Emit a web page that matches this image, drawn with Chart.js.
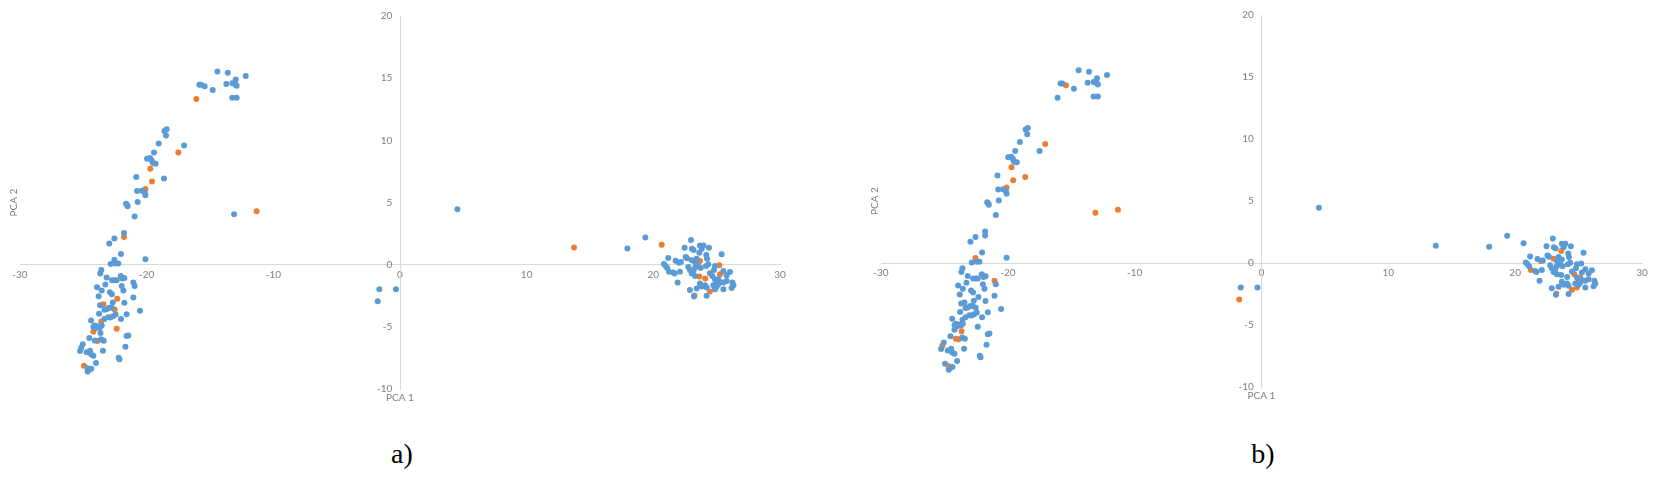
<!DOCTYPE html>
<html>
<head>
<meta charset="utf-8">
<script src="https://cdn.jsdelivr.net/npm/chart.js"></script>
<style>
    body { margin: 0; background: #fff; width: 1654px; height: 478px; overflow: hidden; position: relative; }
    .panel { position: absolute; top: 0; height: 420px; }
    .cap { position: absolute; top: 438px; width: 100px; text-align: center; font: 28px "Liberation Serif", serif; color: #000; }
</style>
</head>
<body>
<div class="panel" style="left:0; width:800px;"><canvas id="pcaA"></canvas></div>
<div class="panel" style="left:861px; width:793px;"><canvas id="pcaB"></canvas></div>
<div class="cap" style="left:352px;">a)</div>
<div class="cap" style="left:1213px;">b)</div>
<script>
// PCA scores (same samples in both panels)
const pc1 = [
    -14.42, -13.6, -12.18, -12.97, -15.84, -15.71, -15.42, -14.79, -13.71, -13.24,
    -12.97, -12.9, -13.24, -12.9, -16.08, -18.6, -18.42, -18.47, -17.05, -17.5,
    -19.05, -19.42, -19.97, -19.74, -19.6, -19.5, -19.29, -19.71, -19.58, -18.63,
    -20.82, -20.1, -20.76, -20.39, -20.1, -20.15, -20.71, -21.63, -21.5, -21.55,
    -20.95, -11.32, -13.1, -21.79, -21.79, -22.55, -22.95, -22.03, -20.1, -22.55,
    -22.84, -22.45, -22.24, -23.58, -23.66, -23.16, -22.74, -22.55, -22.37, -22.05,
    -21.92, -21.76, -23.92, -23.55, -23.26, -21.97, -21.84, -21.05, -20.95, -23.79,
    -22.9, -22.74, -22.32, -22.68, -21.76, -21.05, -23.42, -23.68, -23.34, -23.16,
    -22.95, -22.76, -22.53, -20.53, -21.58, -23.76, -22.45, -22.66, -23.03, -22.87,
    -22.03, -23.34, -24.39, -23.58, -24.1, -23.9, -23.7, -24.0, -24.2, -23.55,
    -22.37, -24.21, -23.65, -21.45, -21.58, -24.53, -24.1, -23.6, -23.87, -23.39,
    -25.05, -25.16, -25.26, -24.74, -24.47, -24.21, -24.39, -23.45, -21.68, -24.0,
    -22.21, -22.15, -24.95, -24.5, -24.66, -24.66, -24.37, -1.76, -1.63, -0.32,
    4.53, 13.74, 17.95, 19.37, 20.66, 22.97, 22.47, 23.05, 23.18, 23.68,
    23.95, 23.82, 24.39, 23.63, 22.55, 22.66, 21.18, 24.18, 24.24, 25.39,
    23.03, 23.29, 23.42, 23.68, 21.76, 22.03, 22.18, 20.84, 20.97, 21.1,
    21.24, 21.58, 21.68, 22.1, 22.76, 22.89, 23.16, 23.55, 23.74, 23.42,
    23.29, 24.16, 24.34, 24.87, 24.79, 25.21, 23.29, 23.03, 23.63, 24.1,
    24.47, 24.66, 24.87, 25.26, 25.53, 25.79, 26.05, 25.13, 25.26, 25.53,
    25.0, 24.74, 25.79, 26.24, 26.32, 26.18, 25.53, 21.92, 23.68, 23.82,
    24.08, 24.21, 22.89, 24.47, 23.24, 23.21, 24.21, 25.0, 25.13, 24.87,
    23.42
];
const pc2 = [
    15.54, 15.43, 15.17, 14.9, 14.47, 14.47, 14.34, 14.05, 14.53, 14.6,
    14.47, 14.39, 13.43, 13.43, 13.32, 10.76, 10.89, 10.39, 9.59, 9.03,
    9.75, 9.03, 8.52, 8.57, 8.38, 8.17, 8.12, 7.72, 6.68, 6.94,
    7.05, 6.09, 5.93, 5.95, 5.58, 5.8, 5.05, 4.89, 4.7, 4.8,
    3.87, 4.3, 4.06, 2.54, 2.22, 2.1, 1.71, 0.85, 0.43, 0.4,
    0.05, 0.1, 0.1, -0.43, -0.72, -1.04, -1.26, -1.26, -1.26, -0.91,
    -1.12, -1.07, -1.82, -2.08, -1.6, -1.71, -2.08, -1.44, -1.71, -2.54,
    -2.22, -2.38, -2.75, -3.04, -3.07, -2.64, -3.18, -3.26, -3.63, -3.58,
    -3.47, -3.47, -3.6, -3.71, -3.98, -3.95, -4.0, -4.14, -4.22, -4.24,
    -4.38, -4.38, -4.49, -4.57, -4.9, -4.95, -5.05, -5.1, -5.0, -4.9,
    -5.15, -5.39, -5.5, -5.69, -5.74, -5.9, -6.1, -6.0, -6.14, -6.11,
    -6.41, -6.68, -6.94, -7.05, -6.92, -7.32, -7.21, -6.92, -6.6, -7.9,
    -7.48, -7.6, -8.12, -8.44, -8.33, -8.6, -8.38, -2.94, -1.98, -1.98,
    4.46, 1.39, 1.31, 2.19, 1.6, 1.98, 1.36, 1.28, 1.17, 1.55,
    1.55, 1.28, 1.36, 0.96, 0.61, 0.51, 0.53, 0.77, 0.48, 0.83,
    0.35, 0.21, 0.48, 0.29, 0.32, 0.16, 0.21, 0.05, -0.11, -0.27,
    -0.56, -0.64, -0.72, -0.56, -0.19, -0.43, -0.53, -0.11, -0.27, 0.03,
    -0.24, -0.11, 0.03, -0.11, -0.43, -0.05, -0.91, -0.72, -0.96, -1.12,
    -0.69, -0.91, -1.17, -0.77, -0.51, -0.85, -0.59, -1.17, -1.39, -1.44,
    -1.44, -1.66, -1.31, -1.44, -1.66, -1.87, -1.98, -1.44, -1.52, -1.76,
    -1.66, -1.84, -2.03, -2.16, -2.48, -2.56, -2.51, -1.76, -1.58, -1.98,
    -1.92
];
// samples in the second (orange) group, by index
const groupA = [14, 19, 27, 28, 31, 41, 44, 72, 76, 82, 93, 100, 101, 108, 122, 123, 131, 134, 153, 175, 178, 179, 183, 203, 204];
const groupB = [6, 18, 27, 28, 29, 31, 41, 42, 49, 67, 102, 106, 108, 111, 123, 124, 127, 143, 150, 155, 160, 181, 187, 203, 204, 209];
const xTicks = [-30, 30, 10];   // min, max, step
const yTicks = [-10, 20, 5];

const BLUE = '#5b9bd5', ORANGE = '#ed7d31', AXIS = '#d9d9d9', TXT = '#7f7f7f';

function split(group) {
    const blue = [], orange = [];
    pc1.forEach((x, i) => (group.includes(i) ? orange : blue).push({x: x, y: pc2[i]}));
    return [blue, orange];
}

const axisTitles = {
    id: 'axisTitles',
    afterDraw(chart) {
        const {ctx, chartArea: a} = chart;
        ctx.save();
        ctx.fillStyle = TXT;
        ctx.font = '10px Lato';
        ctx.textAlign = 'center';
        ctx.textBaseline = 'middle';
        ctx.fillText('PCA 1', (a.left + a.right) / 2, a.bottom + 9);
        ctx.translate(a.left - 6, (a.top + a.bottom) / 2);
        ctx.rotate(-Math.PI / 2);
        ctx.fillText('PCA 2', 0, 0);
        ctx.restore();
    }
};

function makeChart(id, group, padding) {
    const [blue, orange] = split(group);
    const tickFont = {family: 'Lato', size: 10};
    new Chart(document.getElementById(id), {
        type: 'scatter',
        data: { datasets: [
            {label: 'group 1', data: blue, backgroundColor: BLUE, borderWidth: 0, pointRadius: 3},
            {label: 'group 2', data: orange, backgroundColor: ORANGE, borderWidth: 0, pointRadius: 3}
        ]},
        options: {
            responsive: true, maintainAspectRatio: false, animation: false,
            layout: { padding: padding },
            plugins: { legend: {display: false}, tooltip: {enabled: false} },
            scales: {
                x: { type: 'linear', position: {y: 0}, min: xTicks[0], max: xTicks[1],
                     grid: {display: false, drawTicks: false}, border: {display: true, color: AXIS, width: 1},
                     ticks: {stepSize: xTicks[2], autoSkip: false, maxRotation: 0, padding: 4, color: TXT, font: tickFont} },
                y: { type: 'linear', position: {x: 0}, min: yTicks[0], max: yTicks[1],
                     grid: {display: false, drawTicks: false}, border: {display: true, color: AXIS, width: 1},
                     ticks: {stepSize: yTicks[2], autoSkip: false, padding: 8, color: TXT, font: tickFont,
                             callback: v => v + '   '} }
            }
        },
        plugins: [axisTitles]
    });
}

makeChart('pcaA', groupA, {left: 20, right: 20, top: 16, bottom: 31});
makeChart('pcaB', groupB, {left: 20, right: 12, top: 15, bottom: 33});
</script>
</body>
</html>
